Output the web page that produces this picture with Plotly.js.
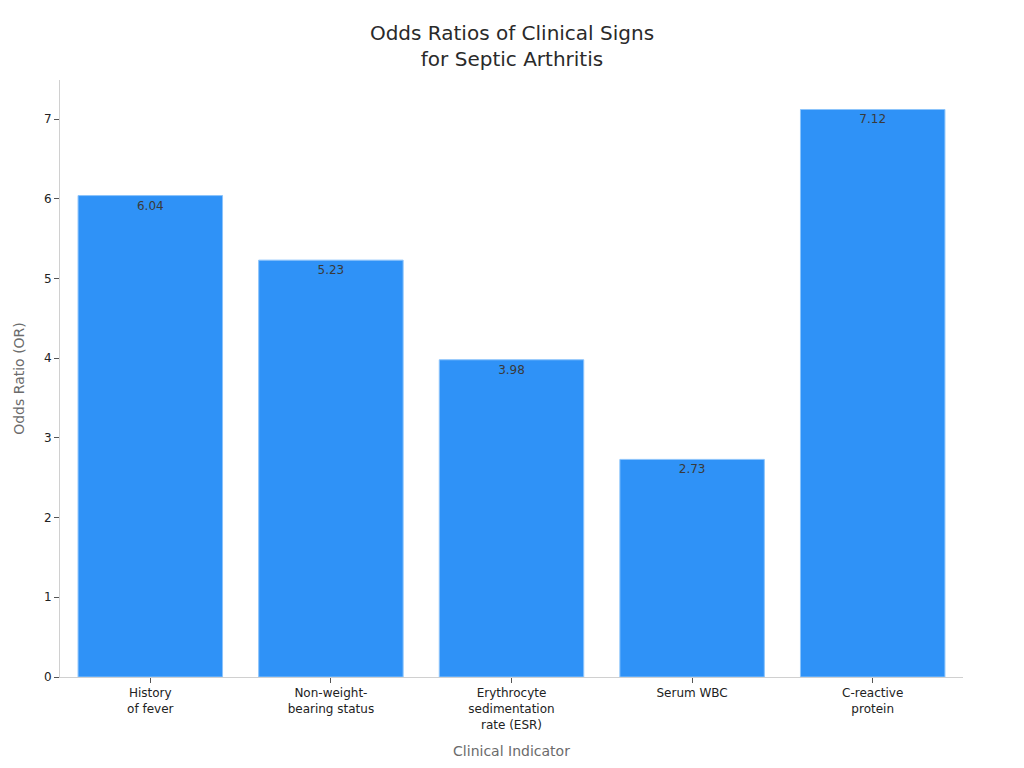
<!DOCTYPE html>
<html>
<head>
<meta charset="utf-8">
<script src="https://cdn.plot.ly/plotly-3.0.1.min.js"></script>
<style>
  html, body { margin: 0; padding: 0; background: #fff; }
  #chart { width: 1024px; height: 768px; }
</style>
</head>
<body>
<div id="chart"></div>
<script>
var indicators = ['History<br>of fever', 'Non-weight-<br>bearing status', 'Erythrocyte<br>sedimentation<br>rate (ESR)', 'Serum WBC', 'C-reactive<br>protein'];
var oddsRatios = [6.04, 5.23, 3.98, 2.73, 7.12];
var valueLabels = ['6.04', '5.23', '3.98', '2.73', '7.12'];

var trace = {
  type: 'bar',
  x: indicators,
  y: oddsRatios,
  text: valueLabels,
  textposition: 'inside',
  insidetextanchor: 'end',
  textfont: {family: 'DejaVu Sans', size: 12, color: '#3a3a3a'},
  marker: {color: '#2F92F7', line: {color: '#8cc4fb', width: 1}},
  hoverinfo: 'x+y'
};

var layout = {
  width: 1024,
  height: 768,
  margin: {l: 60, r: 61, t: 80, b: 91},
  paper_bgcolor: '#ffffff',
  plot_bgcolor: '#ffffff',
  font: {family: 'DejaVu Sans', size: 12, color: '#222'},
  title: {
    text: 'Odds Ratios of Clinical Signs<br>for Septic Arthritis',
    font: {family: 'DejaVu Sans', size: 20, color: '#2a2a2a'},
    x: 0.5, xanchor: 'center', y: 0.948, yanchor: 'top'
  },
  bargap: 0.2,
  showlegend: false,
  xaxis: {
    title: {text: 'Clinical Indicator', font: {size: 14, color: '#6b6b6b'}, standoff: 15},
    showline: true, linecolor: '#d0d0d0', linewidth: 1,
    ticks: 'outside', ticklen: 5, tickcolor: '#555',
    tickfont: {size: 12, color: '#222'},
    showgrid: false, zeroline: false
  },
  yaxis: {
    title: {text: 'Odds Ratio (OR)', font: {size: 14, color: '#6b6b6b'}, standoff: 16},
    range: [0, 7.49],
    dtick: 1,
    showline: true, linecolor: '#d0d0d0', linewidth: 1,
    ticks: 'outside', ticklen: 5, tickcolor: '#555',
    tickfont: {size: 12, color: '#222'},
    showgrid: false, zeroline: false
  }
};

Plotly.newPlot('chart', [trace], layout, {displayModeBar: false});
</script>
</body>
</html>
